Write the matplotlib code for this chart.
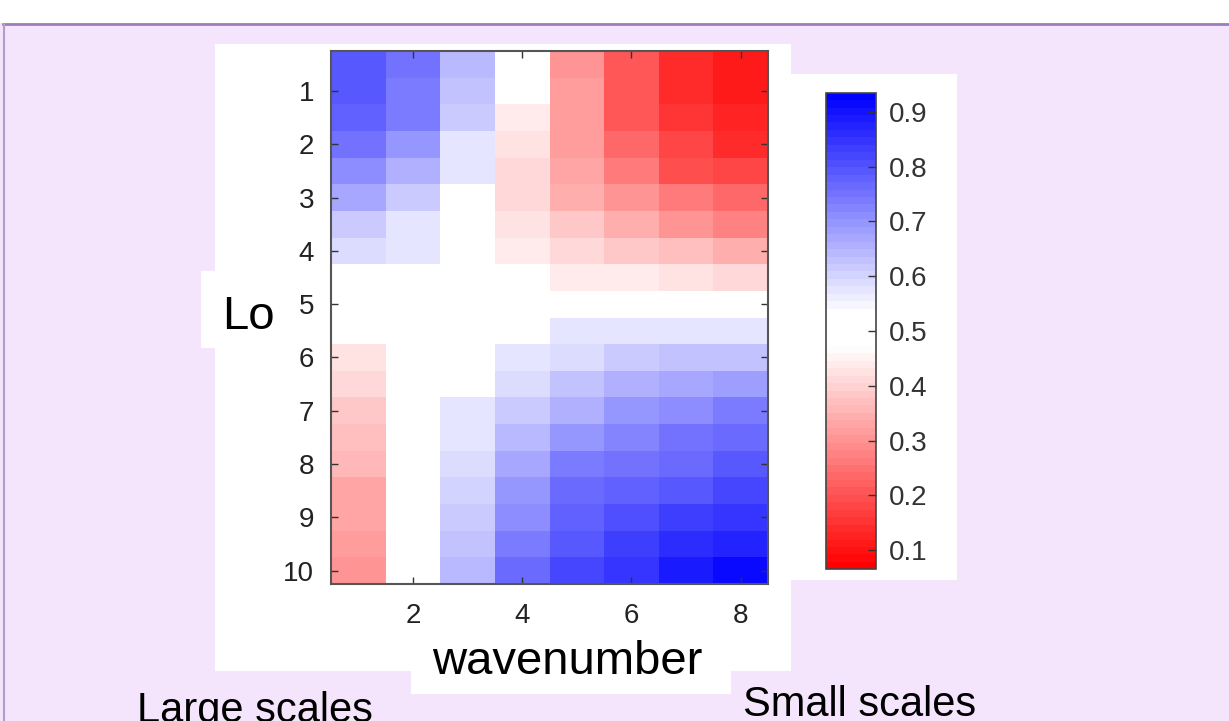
import numpy as np
import matplotlib
matplotlib.use("Agg")
import matplotlib.pyplot as plt
from matplotlib.colors import LinearSegmentedColormap, Normalize
from matplotlib.patches import Rectangle
from matplotlib.lines import Line2D

plt.rcParams['font.family'] = ['Liberation Sans', 'DejaVu Sans']

# data
wavenumber = [1, 2, 3, 4, 5, 6, 7, 8]
lo = [0.5, 1.0, 1.5, 2.0, 2.5, 3.0, 3.5, 4.0, 4.5, 5.0,
      5.5, 6.0, 6.5, 7.0, 7.5, 8.0, 8.5, 9.0, 9.5, 10.0]
values = [
    [0.792, 0.748, 0.642, 0.500, 0.308, 0.208, 0.136, 0.106],
    [0.792, 0.742, 0.627, 0.500, 0.316, 0.208, 0.146, 0.106],
    [0.777, 0.734, 0.615, 0.434, 0.313, 0.208, 0.159, 0.124],
    [0.748, 0.695, 0.574, 0.430, 0.313, 0.240, 0.176, 0.146],
    [0.709, 0.654, 0.571, 0.418, 0.324, 0.259, 0.200, 0.176],
    [0.671, 0.615, 0.500, 0.415, 0.349, 0.302, 0.259, 0.233],
    [0.615, 0.574, 0.500, 0.430, 0.389, 0.349, 0.308, 0.281],
    [0.588, 0.571, 0.500, 0.440, 0.415, 0.389, 0.370, 0.349],
    [0.500, 0.500, 0.500, 0.500, 0.437, 0.437, 0.430, 0.415],
    [0.500, 0.500, 0.500, 0.500, 0.500, 0.500, 0.500, 0.500],
    [0.500, 0.500, 0.500, 0.500, 0.571, 0.571, 0.574, 0.579],
    [0.430, 0.500, 0.500, 0.574, 0.590, 0.615, 0.627, 0.627],
    [0.415, 0.500, 0.500, 0.590, 0.634, 0.654, 0.671, 0.684],
    [0.389, 0.500, 0.568, 0.615, 0.654, 0.695, 0.715, 0.734],
    [0.376, 0.500, 0.574, 0.642, 0.695, 0.726, 0.748, 0.759],
    [0.362, 0.500, 0.590, 0.671, 0.734, 0.748, 0.769, 0.792],
    [0.335, 0.500, 0.604, 0.695, 0.759, 0.775, 0.797, 0.813],
    [0.324, 0.500, 0.615, 0.715, 0.785, 0.800, 0.835, 0.841],
    [0.319, 0.500, 0.627, 0.734, 0.797, 0.835, 0.863, 0.869],
    [0.308, 0.500, 0.646, 0.759, 0.814, 0.844, 0.885, 0.910],
]
cbar_ticks = [0.1, 0.2, 0.3, 0.4, 0.5, 0.6, 0.7, 0.8, 0.9]

W, H = 1229, 721
bg = '#f5e5fc'
fig = plt.figure(figsize=(W / 100, H / 100), dpi=100, facecolor=bg)


def box(x0, y0, x1, y1, color='white'):
    # pixel coords (top-left origin) -> figure coords
    fig.add_artist(Rectangle((x0 / W, 1 - y1 / H), (x1 - x0) / W, (y1 - y0) / H,
                             transform=fig.transFigure, facecolor=color,
                             edgecolor='none', zorder=0))


# slide frame
box(0, 0, W, 23)
fig.add_artist(Line2D([3 / W, 1], [1 - 24 / H, 1 - 24 / H], transform=fig.transFigure,
                      color='#9c7eb8', lw=2, zorder=1))
fig.add_artist(Line2D([4 / W, 4 / W], [0, 1 - 24 / H], transform=fig.transFigure,
                      color='#b49ccb', lw=1.5, zorder=1))

# white panels pasted on the slide
box(215, 44, 791, 671)
box(411, 640, 731, 694)
box(201, 271, 216, 348)
box(791, 74, 957, 580)

cmap = LinearSegmentedColormap.from_list(
    'rwb', [(0.0, '#ff0000'), (0.4655, '#ffffff'), (0.54, '#ffffff'), (1.0, '#0000ff')], N=64)
norm = Normalize(vmin=0.065, vmax=0.935)

ax = fig.add_axes([331 / W, 1 - 584 / H, 437 / W, 533 / H])
x = np.array(wavenumber, dtype=float)
y = np.array(lo, dtype=float)
xe = np.concatenate([x - 0.5, [x[-1] + 0.5]])
ye = np.concatenate([y - 0.25, [y[-1] + 0.25]])
mesh = ax.pcolormesh(xe, ye, np.array(values), cmap=cmap, norm=norm, shading='flat')
ax.set_xlim(0.5, 8.5)
ax.set_ylim(10.25, 0.25)
ax.set_xticks([2, 4, 6, 8])
ax.set_yticks(range(1, 11))
ax.tick_params(direction='in', top=True, right=True, length=5, width=1,
               color='#333333', labelcolor='#222222', labelsize=20)
ax.tick_params(axis='y', pad=12)
ax.tick_params(axis='x', pad=14)
for s in ax.spines.values():
    s.set_color('#555555')
    s.set_linewidth(1.5)

cax = fig.add_axes([826 / W, 1 - 569.3 / H, 50 / W, 476.6 / H])
cb = fig.colorbar(mesh, cax=cax, ticks=cbar_ticks)
cb.ax.tick_params(direction='in', length=6, width=1, color='#333333',
                  labelcolor='#333333', labelsize=20, pad=9)
cb.ax.set_yticklabels([f'{t:.1f}' for t in cbar_ticks])
cb.outline.set_edgecolor('#444444')
cb.outline.set_linewidth(1.2)

fig.text(222 / W, 1 - 329 / H, 'Lo', fontsize=34, va='baseline', ha='left')
fig.text(567 / W, 1 - 674 / H, 'wavenumber', fontsize=34, va='baseline', ha='center')
fig.text(137 / W, 1 - 722 / H, 'Large scales', fontsize=30, va='baseline', ha='left')
fig.text(743 / W, 1 - 716 / H, 'Small scales', fontsize=30, va='baseline', ha='left')

fig.savefig('out.png', dpi=100, facecolor=bg)
